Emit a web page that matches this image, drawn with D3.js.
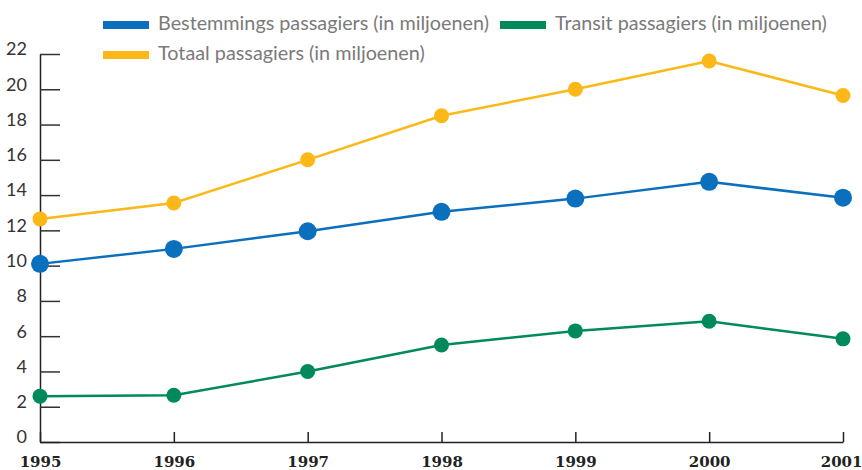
<!DOCTYPE html>
<html>
<head>
<meta charset="utf-8">
<script src="https://cdn.jsdelivr.net/npm/d3@7"></script>
<style>
  body { margin: 0; background: #fff; }
  svg { display: block; }
</style>
</head>
<body>
<svg width="862" height="470"></svg>
<script>
// data
var years = [1995, 1996, 1997, 1998, 1999, 2000, 2001];
var bestemming = [10.1, 10.95, 11.95, 13.05, 13.8, 14.75, 13.85];
var transit = [2.6, 2.65, 4.0, 5.5, 6.3, 6.85, 5.85];
var totaal = [12.65, 13.55, 16.0, 18.5, 20.0, 21.6, 19.65];
var yTicks = [0, 2, 4, 6, 8, 10, 12, 14, 16, 18, 20, 22];
var seriesNames = ["Bestemmings passagiers (in miljoenen)", "Transit passagiers (in miljoenen)", "Totaal passagiers (in miljoenen)"];

var blue = "#0a6fbd", green = "#00895a", yellow = "#fbb817";

var svg = d3.select('svg');

var x = d3.scaleLinear().domain([1995, 2001]).range([40, 843]);
var y = d3.scaleLinear().domain([0, 22]).range([442, 54]);

// y axis
var gY = svg.append('g')
    .attr('transform', 'translate(40,0)')
    .call(d3.axisLeft(y).tickValues(yTicks).tickSize(-20).tickSizeOuter(0).tickPadding(13));
gY.select('.domain').attr('stroke', '#222').attr('stroke-width', 1.5);
gY.selectAll('.tick line').attr('stroke', '#333').attr('stroke-width', 1.5);
gY.selectAll('.tick text')
    .attr('dy', '0.05em')
    .style('font-family', 'Lato, "Open Sans", sans-serif')
    .style('font-size', '18px')
    .attr('fill', '#333');

// x axis
var gX = svg.append('g')
    .attr('transform', 'translate(0,442)')
    .call(d3.axisBottom(x).tickValues(years).tickSize(-10).tickSizeOuter(0).tickPadding(14).tickFormat(d3.format('d')));
gX.select('.domain').attr('stroke', '#222').attr('stroke-width', 1.5);
gX.selectAll('.tick line').attr('stroke', '#222').attr('stroke-width', 1.5);
gX.selectAll('.tick text')
    .style('font-family', '"DejaVu Serif", serif')
    .style('font-weight', 'bold')
    .style('font-size', '15px')
    .attr('fill', '#222');
// last label sits at the right edge, keep it inside
gX.selectAll('.tick text').filter(function(d) { return d === 2001; })
    .attr('text-anchor', 'end')
    .attr('x', 19);

// lines + markers
var line = d3.line()
    .x(function(d, i) { return x(years[i]); })
    .y(function(d) { return y(d); });

var series = [
    {values: totaal, color: yellow, r: 7.5},
    {values: transit, color: green, r: 7.5},
    {values: bestemming, color: blue, r: 9}
];

series.forEach(function(s) {
    svg.append('path')
        .datum(s.values)
        .attr('d', line)
        .attr('fill', 'none')
        .attr('stroke', s.color)
        .attr('stroke-width', 2.5);
    svg.append('g').selectAll('circle')
        .data(s.values)
        .enter()
        .append('circle')
        .attr('cx', function(d, i) { return x(years[i]); })
        .attr('cy', function(d) { return y(d); })
        .attr('r', s.r)
        .attr('fill', s.color);
});

// legend
var legend = [
    {name: seriesNames[0], color: blue, x: 103, y: 21, w: 331},
    {name: seriesNames[1], color: green, x: 500, y: 21, w: 272},
    {name: seriesNames[2], color: yellow, x: 103, y: 51, w: 267}
];
legend.forEach(function(l) {
    svg.append('rect')
        .attr('x', l.x).attr('y', l.y)
        .attr('width', 46).attr('height', 8)
        .attr('fill', l.color);
    var t = svg.append('text')
        .attr('x', l.x + 55)
        .attr('y', l.y + 8.5)
        .style('font-family', 'Lato, "Open Sans", sans-serif')
        .style('font-size', '18px')
        .attr('fill', '#7a7a7a')
        .text(l.name);
    // fit to the width seen in the picture
    var len = t.node().getComputedTextLength();
    t.style('font-size', (18 * l.w / len).toFixed(2) + 'px');
});
</script>
</body>
</html>
